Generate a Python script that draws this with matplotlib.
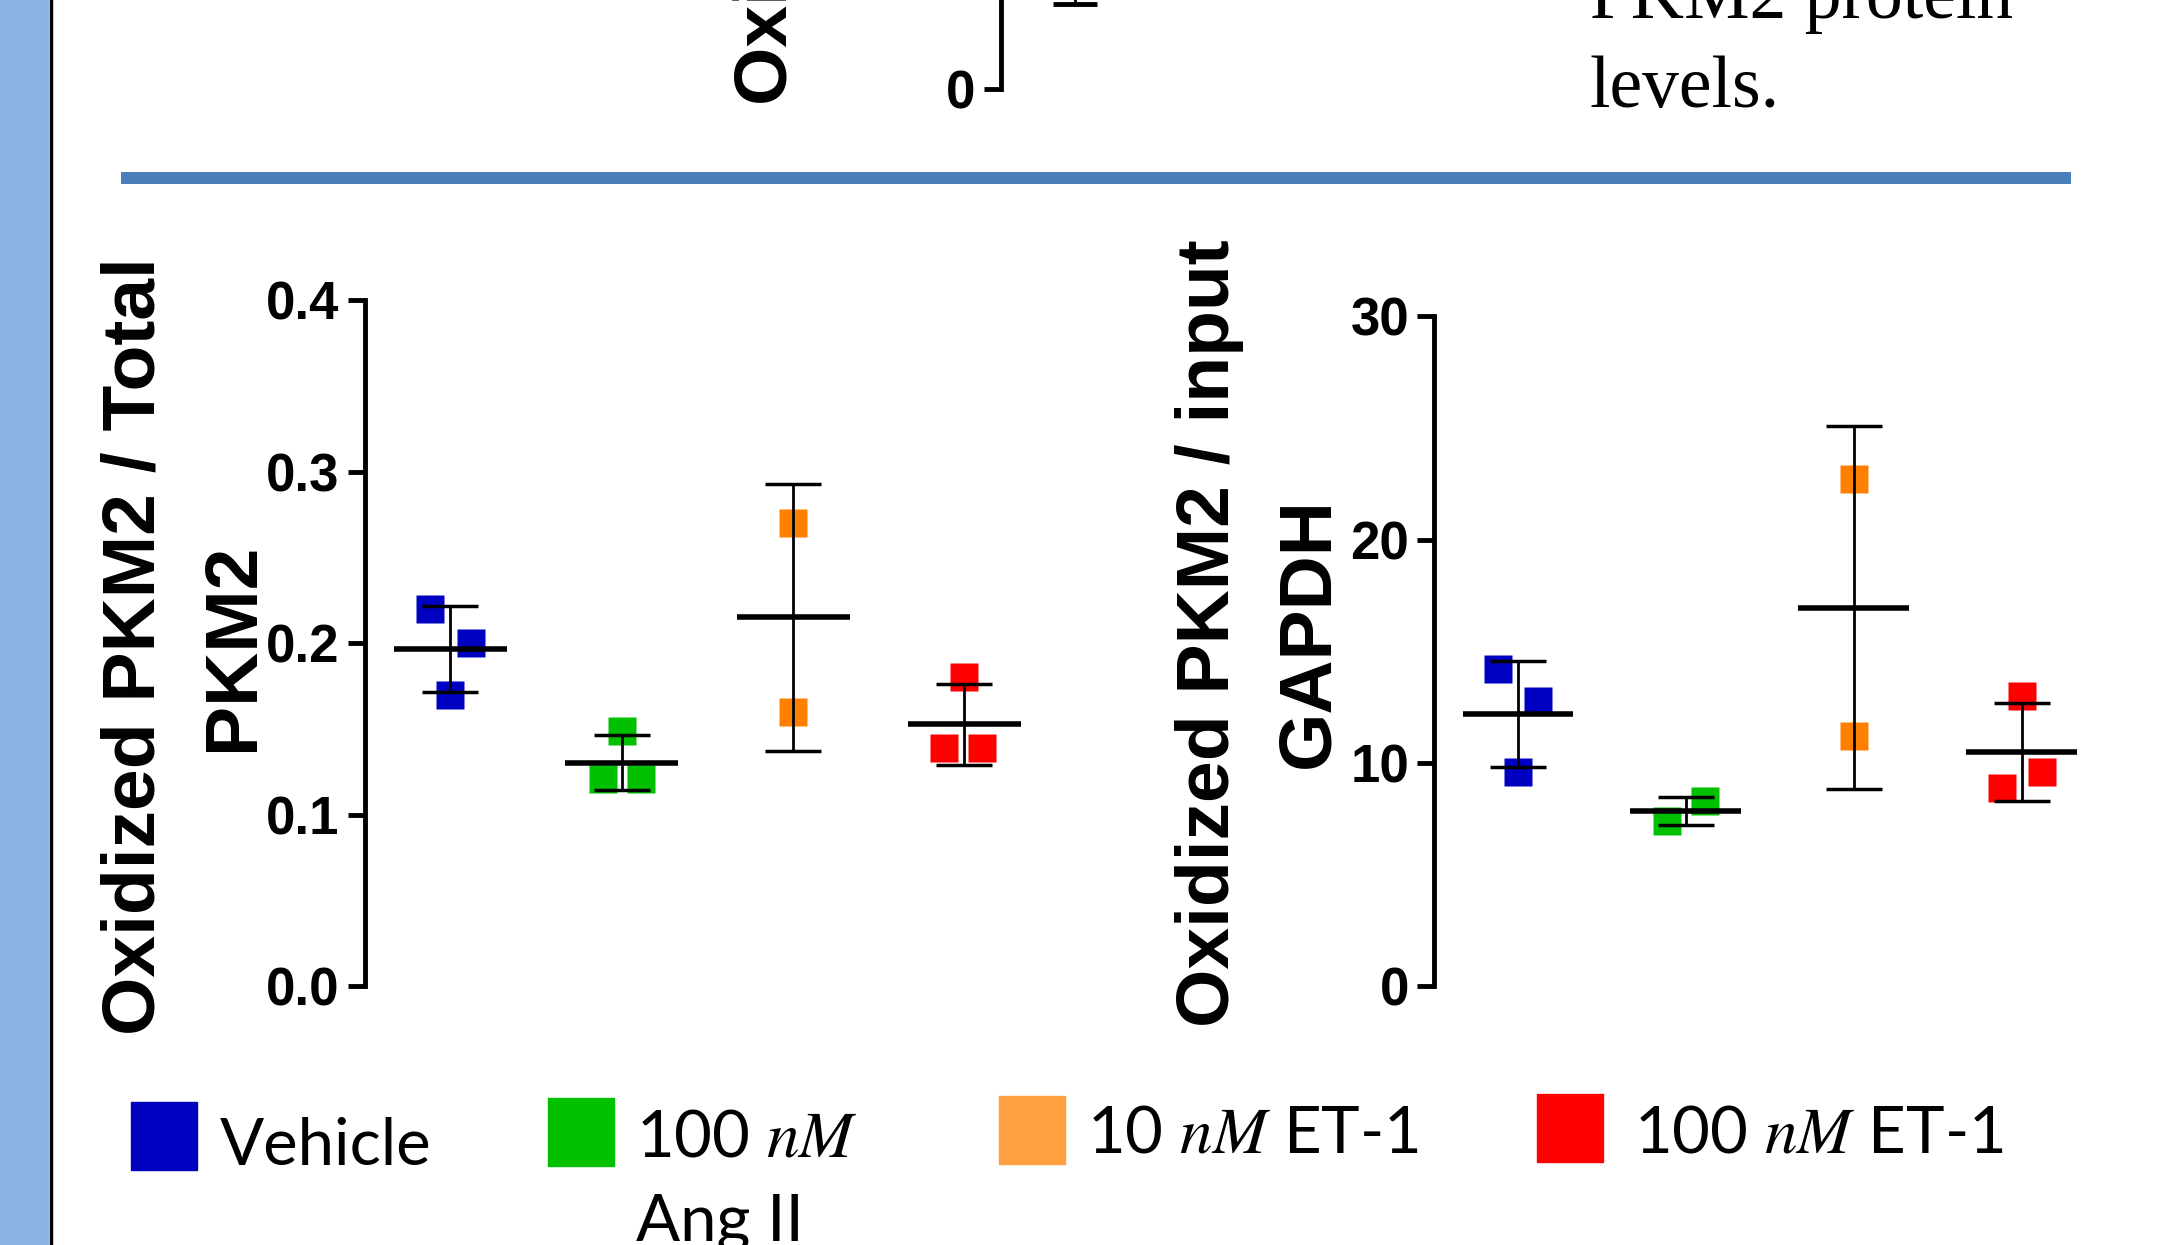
import matplotlib
matplotlib.use('Agg')
import matplotlib.pyplot as plt
import numpy as np
from matplotlib.lines import Line2D
from matplotlib.patches import Rectangle

plt.rcParams['font.family'] = 'Liberation Sans'
plt.rcParams['mathtext.fontset'] = 'stix'

# groups, colours
group_labels = ['Vehicle', '100 $nM$', '10 $nM$ ET-1', '100 $nM$ ET-1']
point_colors = ['#0000c0', '#00c000', '#ff8000', '#ff0000']
legend_colors = ['#0000c0', '#00c000', '#ffa040', '#ff0000']

# oxidized PKM2 / total PKM2 (one list per group)
total_vehicle = [0.220, 0.200, 0.170]
total_angii = [0.149, 0.121, 0.121]
total_et1_10 = [0.270, 0.160]
total_et1_100 = [0.180, 0.139, 0.139]

# oxidized PKM2 / input GAPDH
gapdh_vehicle = [14.2, 12.8, 9.6]
gapdh_angii = [7.4, 8.3]
gapdh_et1_10 = [22.7, 11.2]
gapdh_et1_100 = [13.0, 8.9, 9.6]

# sideways spread of the points inside a group
jitter_total = [[-0.12, 0.12, 0.0], [0.0, -0.11, 0.11], [0.0, 0.0], [0.0, -0.12, 0.10]]
jitter_gapdh = [[-0.12, 0.12, 0.0], [-0.115, 0.115], [0.0, 0.0], [0.0, -0.115, 0.12]]

# cut-off panel above the separator (only its bottom is visible)
top_x = [0.115]
top_mean = [0.5]
top_sd = [0.363]

fig = plt.figure(figsize=(21.58, 12.45), dpi=100)


def draw_panel(ax, groups, jitters):
    for i, (vals, jit, col) in enumerate(zip(groups, jitters, point_colors)):
        x = i + 1
        ax.plot(x + np.array(jit), vals, 's', color=col, ms=19.5, mec='none',
                clip_on=False, zorder=2)
        m = np.mean(vals)
        sd = np.std(vals, ddof=1)
        ax.errorbar(x, m, yerr=sd, fmt='none', ecolor='black', elinewidth=2,
                    capsize=20, capthick=2.5, zorder=3, clip_on=False)
        ax.hlines(m, x - 0.33, x + 0.33, color='black', lw=4, zorder=3)


def style_axes(ax, ylim, yticks, ticklabels):
    ax.set_xlim(0.5, 4.5)
    ax.set_ylim(*ylim)
    for s in ['top', 'right', 'bottom']:
        ax.spines[s].set_visible(False)
    ax.spines['left'].set_linewidth(3.5)
    ax.set_xticks([])
    ax.set_yticks(yticks)
    ax.set_yticklabels(ticklabels)
    ax.tick_params(axis='y', length=12, width=3.5, pad=6, labelsize=38)
    for lab in ax.get_yticklabels():
        lab.set_fontweight('bold')
    ax.patch.set_visible(False)


# left panel
ax1 = fig.add_axes([0.169, 0.2077, 0.3176, 0.5514])
draw_panel(ax1, [total_vehicle, total_angii, total_et1_10, total_et1_100], jitter_total)
style_axes(ax1, (0, 0.4), [0, 0.1, 0.2, 0.3, 0.4], ['0.0', '0.1', '0.2', '0.3', '0.4'])
fig.text(0.0855, 0.4807, 'Oxidized PKM2 / Total\nPKM2', rotation=90, ha='center',
         va='center', fontsize=54, fontweight='bold', linespacing=1.55,
         multialignment='center')

# right panel
ax2 = fig.add_axes([0.6645, 0.2077, 0.3112, 0.5382])
draw_panel(ax2, [gapdh_vehicle, gapdh_angii, gapdh_et1_10, gapdh_et1_100], jitter_gapdh)
style_axes(ax2, (0, 30), [0, 10, 20, 30], ['0', '10', '20', '30'])
fig.text(0.5835, 0.4917, 'Oxidized PKM2 / input\nGAPDH', rotation=90, ha='center',
         va='center', fontsize=54, fontweight='bold', linespacing=1.55,
         multialignment='center')

# bottom of the panel above, cut by the figure edge
ax0 = fig.add_axes([0.4637, 0.9282, 0.3, 0.5])
ax0.errorbar(top_x, top_mean, yerr=top_sd, fmt='none', ecolor='black',
             elinewidth=2, capsize=16, capthick=3.5, clip_on=False)
style_axes(ax0, (0, 1), [0], ['0'])
ax0.set_xlim(0, 1)
fig.text(0.3552, 0.9157, 'Oxidized PKM2', rotation=90, ha='center', va='bottom',
         fontsize=54, fontweight='bold')
fig.text(0.7366, 1 - 18 / 1245, 'PKM2 protein', family='Liberation Serif',
         fontsize=53, va='baseline')
fig.text(0.7366, 1 - 107 / 1245, 'levels.', family='Liberation Serif',
         fontsize=53, va='baseline')

# poster decorations: side strip, frame line, separator
fig.add_artist(Rectangle((0, 0), 0.0223, 1, transform=fig.transFigure,
                         color='#8db3e2', zorder=0))
fig.add_artist(Line2D([0.0236, 0.0236], [0, 1], transform=fig.transFigure,
                      color='black', lw=2.5))
fig.add_artist(Line2D([0.0561, 0.9598], [0.857, 0.857], transform=fig.transFigure,
                      color='#4a7ebb', lw=8.6, solid_capstyle='butt'))

# legend drawn by hand (second line of the Ang II label hangs below)
box_x = [0.0606, 0.2538, 0.4630, 0.7124]
box_y = [0.0602, 0.0635, 0.065, 0.0667]
text_x = [0.102, 0.2946, 0.5038, 0.757]
text_y = [0.0643, 0.0707, 0.0739, 0.0739]
for bx, by, tx, ty, col, lab in zip(box_x, box_y, text_x, text_y, legend_colors, group_labels):
    fig.add_artist(Rectangle((bx, by), 0.0306, 0.0546, transform=fig.transFigure,
                             color=col))
    fig.text(tx, ty, lab, family='Lato', fontsize=47, va='baseline')
fig.text(0.2946, 0.004, 'Ang II', family='Lato', fontsize=47, va='baseline')

fig.savefig('out.png', dpi=100)
